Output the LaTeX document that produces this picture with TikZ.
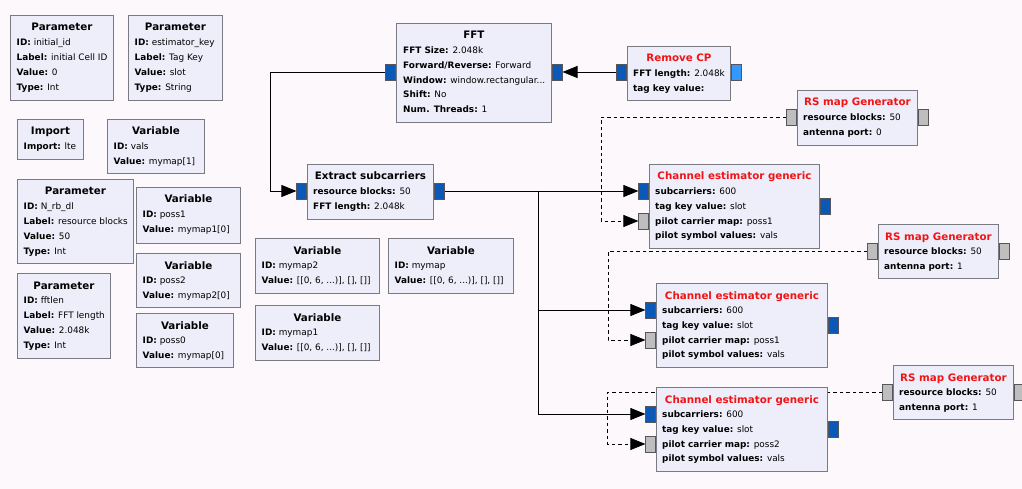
\documentclass[tikz,border=0pt]{standalone}
\usepackage{fontspec}
\setmainfont{DejaVu Sans}
\usetikzlibrary{arrows.meta,backgrounds}
\definecolor{canvas}{HTML}{FCF8FC}
\definecolor{blkfill}{HTML}{EEEEFA}
\definecolor{blkline}{HTML}{7A7A82}
\definecolor{portblue}{HTML}{0A58B8}
\definecolor{portcplx}{HTML}{3399FF}
\definecolor{portgrey}{HTML}{BEBEBE}
\definecolor{titlered}{HTML}{F21414}
\begin{document}
\begin{tikzpicture}[x=1pt, y=-1pt,
  blk/.style={draw=blkline, fill=blkfill, line width=0.9pt, anchor=north west, inner sep=0pt},
  ttl/.style={font=\fontsize{10.3}{12}\selectfont\bfseries, anchor=base, inner sep=0pt},
  rttl/.style={ttl, text=titlered},
  body/.style={font=\fontsize{8.9}{14.8}\selectfont, align=left, anchor=north west, inner sep=0pt},
  port/.style={draw=blkline!70!black, line width=0.6pt, minimum width=10pt, minimum height=16pt, inner sep=0pt},
  pblue/.style={port, fill=portblue},
  pcplx/.style={port, fill=portcplx},
  pgrey/.style={port, fill=portgrey},
  wire/.style={line width=0.9pt, -{Triangle[length=15pt,width=12pt]}},
  pilot/.style={line width=0.8pt, dash pattern=on 3.5pt off 3pt, -{Triangle[length=15pt,width=12pt]}}]
  \useasboundingbox (0,0) rectangle (1022,489);
  \begin{scope}[on background layer]
    \fill[canvas] (0,0) rectangle (1022,489);
  \end{scope}

  \node[blk, minimum width=103pt, minimum height=85pt] (pinit) at (10,15) {};
  \node[ttl] (pinit-t) at ([yshift=-16pt]pinit.north) {Parameter};
  \node[body] (pinit-b) at ([xshift=6.5pt,yshift=-24pt]pinit.north west) {\textbf{ID:} initial\_id\\\textbf{Label:} initial Cell ID\\\textbf{Value:} 0\\\textbf{Type:} Int};

  \node[blk, minimum width=94pt, minimum height=85pt] (pkey) at (128,15) {};
  \node[ttl] (pkey-t) at ([yshift=-16pt]pkey.north) {Parameter};
  \node[body] (pkey-b) at ([xshift=6.5pt,yshift=-24pt]pkey.north west) {\textbf{ID:} estimator\_key\\\textbf{Label:} Tag Key\\\textbf{Value:} slot\\\textbf{Type:} String};

  \node[blk, minimum width=66pt, minimum height=40pt] (imp) at (17,119) {};
  \node[ttl] (imp-t) at ([yshift=-16pt]imp.north) {Import};
  \node[body] (imp-b) at ([xshift=6.5pt,yshift=-24pt]imp.north west) {\textbf{Import:} lte};

  \node[blk, minimum width=97pt, minimum height=54pt] (vvals) at (107,119) {};
  \node[ttl] (vvals-t) at ([yshift=-16pt]vvals.north) {Variable};
  \node[body] (vvals-b) at ([xshift=6.5pt,yshift=-24pt]vvals.north west) {\textbf{ID:} vals\\\textbf{Value:} mymap[1]};

  \node[blk, minimum width=116pt, minimum height=84pt] (pnrb) at (17,179) {};
  \node[ttl] (pnrb-t) at ([yshift=-16pt]pnrb.north) {Parameter};
  \node[body] (pnrb-b) at ([xshift=6.5pt,yshift=-24pt]pnrb.north west) {\textbf{ID:} N\_rb\_dl\\\textbf{Label:} resource blocks\\\textbf{Value:} 50\\\textbf{Type:} Int};

  \node[blk, minimum width=104pt, minimum height=56pt] (vposs1) at (136,187) {};
  \node[ttl] (vposs1-t) at ([yshift=-16pt]vposs1.north) {Variable};
  \node[body] (vposs1-b) at ([xshift=6.5pt,yshift=-24pt]vposs1.north west) {\textbf{ID:} poss1\\\textbf{Value:} mymap1[0]};

  \node[blk, minimum width=104pt, minimum height=54pt] (vposs2) at (136,253) {};
  \node[ttl] (vposs2-t) at ([yshift=-16pt]vposs2.north) {Variable};
  \node[body] (vposs2-b) at ([xshift=6.5pt,yshift=-24pt]vposs2.north west) {\textbf{ID:} poss2\\\textbf{Value:} mymap2[0]};

  \node[blk, minimum width=97pt, minimum height=54pt] (vposs0) at (136,313) {};
  \node[ttl] (vposs0-t) at ([yshift=-16pt]vposs0.north) {Variable};
  \node[body] (vposs0-b) at ([xshift=6.5pt,yshift=-24pt]vposs0.north west) {\textbf{ID:} poss0\\\textbf{Value:} mymap[0]};

  \node[blk, minimum width=93pt, minimum height=85pt] (pfft) at (17,273) {};
  \node[ttl] (pfft-t) at ([yshift=-16pt]pfft.north) {Parameter};
  \node[body] (pfft-b) at ([xshift=6.5pt,yshift=-24pt]pfft.north west) {\textbf{ID:} fftlen\\\textbf{Label:} FFT length\\\textbf{Value:} 2.048k\\\textbf{Type:} Int};

  \node[blk, minimum width=124pt, minimum height=55pt] (vmap2) at (255,238) {};
  \node[ttl] (vmap2-t) at ([yshift=-16pt]vmap2.north) {Variable};
  \node[body] (vmap2-b) at ([xshift=6.5pt,yshift=-24pt]vmap2.north west) {\textbf{ID:} mymap2\\\textbf{Value:} [[0, 6, ...)], [], []]};

  \node[blk, minimum width=125pt, minimum height=55pt] (vmap) at (388,238) {};
  \node[ttl] (vmap-t) at ([yshift=-16pt]vmap.north) {Variable};
  \node[body] (vmap-b) at ([xshift=6.5pt,yshift=-24pt]vmap.north west) {\textbf{ID:} mymap\\\textbf{Value:} [[0, 6, ...)], [], []]};

  \node[blk, minimum width=124pt, minimum height=55pt] (vmap1) at (255,305) {};
  \node[ttl] (vmap1-t) at ([yshift=-16pt]vmap1.north) {Variable};
  \node[body] (vmap1-b) at ([xshift=6.5pt,yshift=-24pt]vmap1.north west) {\textbf{ID:} mymap1\\\textbf{Value:} [[0, 6, ...)], [], []]};

  \node[blk, minimum width=155pt, minimum height=99pt] (fft) at (396,23) {};
  \node[ttl] (fft-t) at ([yshift=-16pt]fft.north) {FFT};
  \node[body] (fft-b) at ([xshift=7pt,yshift=-23.5pt]fft.north west) {\textbf{FFT Size:} 2.048k\\\textbf{Forward/Reverse:} Forward\\\textbf{Window:} window.rectangular...\\\textbf{Shift:} No\\\textbf{Num. Threads:} 1};
  \node[pblue, anchor=east] (fft-l) at ([yshift=-49pt]fft.north west) {};
  \node[pblue, anchor=west] (fft-r) at ([yshift=-49pt]fft.north east) {};

  \node[blk, minimum width=103pt, minimum height=54pt] (rcp) at (627,46) {};
  \node[rttl] (rcp-t) at ([yshift=-16pt]rcp.north) {Remove CP};
  \node[body] (rcp-b) at ([xshift=6pt,yshift=-23.5pt]rcp.north west) {\textbf{FFT length:} 2.048k\\\textbf{tag key value:}};
  \node[pblue, anchor=east] (rcp-l) at ([yshift=-26pt]rcp.north west) {};
  \node[pcplx, anchor=west] (rcp-r) at ([yshift=-26pt]rcp.north east) {};

  \node[blk, minimum width=126pt, minimum height=55pt] (ext) at (307,164) {};
  \node[ttl] (ext-t) at ([yshift=-16pt]ext.north) {Extract subcarriers};
  \node[body] (ext-b) at ([xshift=6pt,yshift=-23.5pt]ext.north west) {\textbf{resource blocks:} 50\\\textbf{FFT length:} 2.048k};
  \node[pblue, anchor=east] (ext-in) at ([yshift=-27pt]ext.north west) {};
  \node[pblue, anchor=west] (ext-out) at ([yshift=-27pt]ext.north east) {};

  \node[blk, minimum width=170pt, minimum height=84pt] (ch1) at (649,164) {};
  \node[rttl] (ch1-t) at ([yshift=-16pt]ch1.north) {Channel estimator generic};
  \node[body] (ch1-b) at ([xshift=6pt,yshift=-23.5pt]ch1.north west) {\textbf{subcarriers:} 600\\\textbf{tag key value:} slot\\\textbf{pilot carrier map:} poss1\\\textbf{pilot symbol values:} vals};
  \node[pblue, anchor=east] (ch1-in) at ([yshift=-27pt]ch1.north west) {};
  \node[pgrey, anchor=east] (ch1-p) at ([yshift=-57pt]ch1.north west) {};
  \node[pblue, anchor=west] (ch1-out) at ([yshift=-42pt]ch1.north east) {};

  \node[blk, minimum width=171pt, minimum height=84pt] (ch2) at (656,283) {};
  \node[rttl] (ch2-t) at ([yshift=-16pt]ch2.north) {Channel estimator generic};
  \node[body] (ch2-b) at ([xshift=6pt,yshift=-23.5pt]ch2.north west) {\textbf{subcarriers:} 600\\\textbf{tag key value:} slot\\\textbf{pilot carrier map:} poss1\\\textbf{pilot symbol values:} vals};
  \node[pblue, anchor=east] (ch2-in) at ([yshift=-27pt]ch2.north west) {};
  \node[pgrey, anchor=east] (ch2-p) at ([yshift=-57pt]ch2.north west) {};
  \node[pblue, anchor=west] (ch2-out) at ([yshift=-42pt]ch2.north east) {};

  \node[blk, minimum width=171pt, minimum height=84pt] (ch3) at (656,387) {};
  \node[rttl] (ch3-t) at ([yshift=-16pt]ch3.north) {Channel estimator generic};
  \node[body] (ch3-b) at ([xshift=6pt,yshift=-23.5pt]ch3.north west) {\textbf{subcarriers:} 600\\\textbf{tag key value:} slot\\\textbf{pilot carrier map:} poss2\\\textbf{pilot symbol values:} vals};
  \node[pblue, anchor=east] (ch3-in) at ([yshift=-27pt]ch3.north west) {};
  \node[pgrey, anchor=east] (ch3-p) at ([yshift=-57pt]ch3.north west) {};
  \node[pblue, anchor=west] (ch3-out) at ([yshift=-42pt]ch3.north east) {};

  \node[blk, minimum width=120pt, minimum height=55pt] (rs1) at (797,90) {};
  \node[rttl] (rs1-t) at ([yshift=-16pt]rs1.north) {RS map Generator};
  \node[body] (rs1-b) at ([xshift=6pt,yshift=-23.5pt]rs1.north west) {\textbf{resource blocks:} 50\\\textbf{antenna port:} 0};
  \node[pgrey, anchor=east] (rs1-l) at ([yshift=-27pt]rs1.north west) {};
  \node[pgrey, anchor=west] (rs1-r) at ([yshift=-27pt]rs1.north east) {};

  \node[blk, minimum width=120pt, minimum height=54pt] (rs2) at (878,224) {};
  \node[rttl] (rs2-t) at ([yshift=-16pt]rs2.north) {RS map Generator};
  \node[body] (rs2-b) at ([xshift=6pt,yshift=-23.5pt]rs2.north west) {\textbf{resource blocks:} 50\\\textbf{antenna port:} 1};
  \node[pgrey, anchor=east] (rs2-l) at ([yshift=-27pt]rs2.north west) {};
  \node[pgrey, anchor=west] (rs2-r) at ([yshift=-27pt]rs2.north east) {};

  \node[blk, minimum width=120pt, minimum height=54pt] (rs3) at (893,365) {};
  \node[rttl] (rs3-t) at ([yshift=-16pt]rs3.north) {RS map Generator};
  \node[body] (rs3-b) at ([xshift=6pt,yshift=-23.5pt]rs3.north west) {\textbf{resource blocks:} 50\\\textbf{antenna port:} 1};
  \node[pgrey, anchor=east] (rs3-l) at ([yshift=-27pt]rs3.north west) {};
  \node[pgrey, anchor=west] (rs3-r) at ([yshift=-27pt]rs3.north east) {};

  \coordinate (tap) at ([xshift=94pt]ext-out.east);
  \begin{scope}[on background layer]
    \draw[wire] (rcp-l.west) -- (fft-r.east);
    \draw[wire] (fft-l.west) -- ++(-115,0) |- (ext-in.west);
    \draw[wire] (ext-out.east) -- (ch1-in.west);
    \draw[wire] (tap) |- (ch2-in.west);
    \draw[wire] (tap) |- (ch3-in.west);
    \draw[pilot] (rs1-l.west) -- ++(-185,0) |- (ch1-p.west);
    \draw[pilot] (rs2-l.west) -- ++(-259,0) |- (ch2-p.west);
    \draw[pilot] (rs3-l.west) -- ++(-275,0) |- (ch3-p.west);
  \end{scope}
\end{tikzpicture}
\end{document}
